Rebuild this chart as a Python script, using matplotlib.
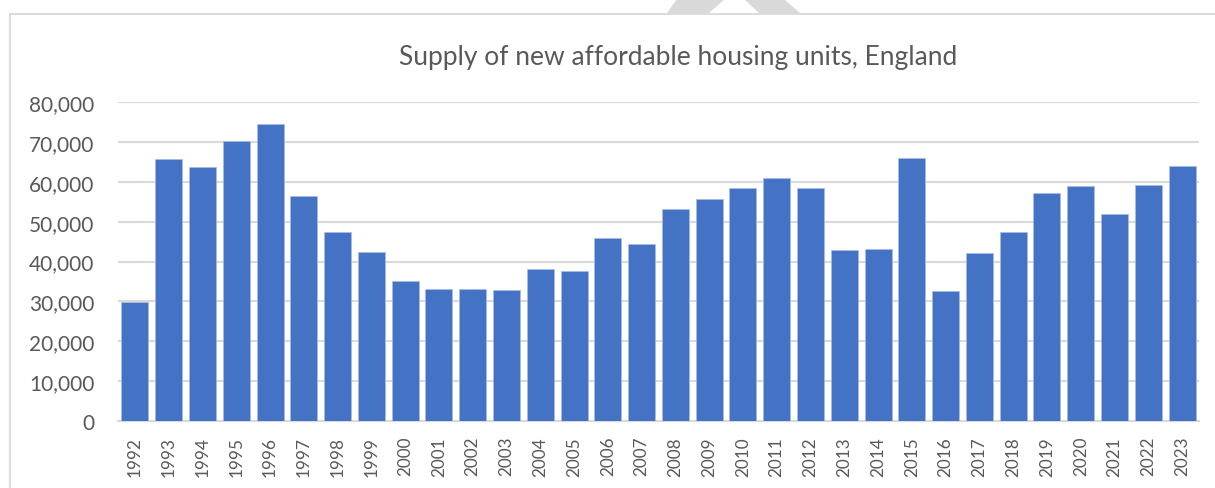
import matplotlib
matplotlib.use("Agg")
import matplotlib.pyplot as plt
from matplotlib.patches import Polygon
from matplotlib.lines import Line2D
from matplotlib.ticker import FuncFormatter

# values
years = [str(y) for y in range(1992, 2024)]
units = [29800, 65700, 63700, 70350, 74550, 56500, 47400, 42400, 35000, 33100,
         33000, 32900, 38000, 37500, 46000, 44300, 53200, 55700, 58400, 61000,
         58400, 43000, 43100, 65900, 32600, 42200, 47400, 57200, 59000, 52000,
         59150, 63900]
yticks = list(range(0, 80001, 10000))

plt.rcParams['font.family'] = ['Lato', 'DejaVu Sans']
txt_col = '#595959'
grid_col = '#d9d9d9'

fig = plt.figure(figsize=(12.15, 4.89), dpi=100)
W, H = 1215, 489

# outer chart frame (only top and left edges visible)
fig.add_artist(Line2D([10.5 / W, 10.5 / W], [0, 1 - 14.7 / H], color=grid_col, lw=1.3))
fig.add_artist(Line2D([10.5 / W, 1], [1 - 14.7 / H, 1 - 14.7 / H], color=grid_col, lw=1.3))

# bit of gray shape poking in at the top
outer = [(667, 14), (677, 0), (784, 0), (800, 14)]
inner = [(709, 14), (725, 0), (744, 0), (759, 14)]
fig.add_artist(Polygon([(x / W, 1 - y / H) for x, y in outer], closed=True,
                       transform=fig.transFigure, color='#d9d9d9', lw=0))
fig.add_artist(Polygon([(x / W, 1 - y / H) for x, y in inner], closed=True,
                       transform=fig.transFigure, color='white', lw=0))

ax = fig.add_axes([118 / W, 1 - 421.7 / H, (1199 - 118) / W, (421.7 - 103.3) / H])
ax.bar(range(len(years)), units, width=0.8, color='#4472C4',
       edgecolor='#a9bde4', linewidth=0.5, zorder=3)

ax.set_xlim(-0.5, len(years) - 0.5)
ax.set_ylim(0, 80000)
ax.set_yticks(yticks)
ax.yaxis.set_major_formatter(FuncFormatter(lambda v, p: f'{int(v):,}'))
ax.set_xticks(range(len(years)))
ax.set_xticklabels(years, rotation=90)

ax.grid(axis='y', color=grid_col, lw=1.5, zorder=0)
for s in ['top', 'right', 'left']:
    ax.spines[s].set_visible(False)
ax.spines['bottom'].set_color(grid_col)
ax.spines['bottom'].set_linewidth(1.5)
ax.tick_params(axis='both', length=0, colors=txt_col)
ax.tick_params(axis='y', labelsize=15, pad=17)
ax.tick_params(axis='x', labelsize=12.3, pad=11)

fig.text(678 / W, 1 - 57 / H, 'Supply of new affordable housing units, England',
         ha='center', va='center', fontsize=19, color=txt_col)

fig.savefig('out.png', dpi=100, facecolor='white')
